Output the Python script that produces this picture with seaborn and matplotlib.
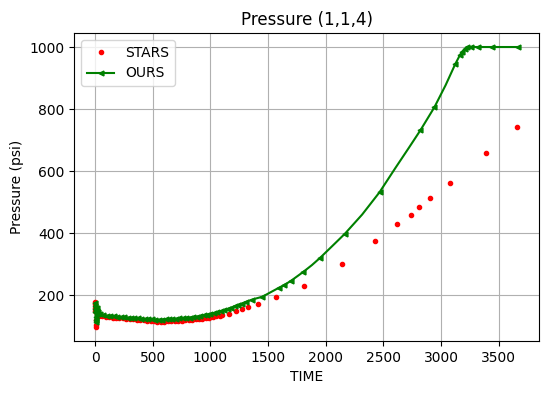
import matplotlib
matplotlib.use("Agg")
import matplotlib.pyplot as plt
import seaborn as sns
import pandas as pd

# -----------------------------
# Data
# -----------------------------
stars_time = [0, 0.5, 1, 2, 3, 5, 8, 12, 16, 20,
              30, 60, 90, 120, 150, 180, 210, 240, 270, 300,
              330, 360, 390, 420, 450, 480, 510, 540, 570, 600,
              630, 660, 690, 720, 750, 780, 810, 840, 870, 900,
              930, 960, 990, 1020, 1050, 1080, 1104, 1161, 1224, 1277,
              1329, 1415, 1571, 1814, 2138, 2429, 2620, 2742, 2811, 2906,
              3079, 3390, 3657]
stars_pressure = [178, 170, 160, 150, 97, 105, 120, 140, 145, 138,
                  134, 132, 130, 129, 128, 127, 126, 125, 124, 123,
                  122, 121, 120, 119, 118, 117, 116, 115, 115, 115,
                  116, 116, 117, 117, 118, 119, 120, 121, 122, 123,
                  124, 125, 128, 130, 132, 134, 135, 140, 148, 155,
                  161, 170, 193, 231, 302, 376, 428, 460, 483, 512,
                  563, 657, 742]

# OURS report steps (drawn with markers)
ours_time = [0, 0.5, 1, 2, 3, 5, 8, 12, 16, 20, 25,
             40, 70, 100, 130, 160, 190, 220, 250, 280, 310,
             340, 370, 400, 430, 460, 490, 520, 550, 580, 610,
             640, 670, 700, 730, 760, 790, 820, 850, 880, 910,
             940, 970, 1000, 1030, 1060, 1090, 1120, 1150, 1180, 1210,
             1240, 1270, 1305, 1363, 1450, 1594, 1638, 1701, 1805, 1950,
             2166, 2467, 2822, 2943, 3125, 3163, 3183, 3206, 3226, 3264,
             3322, 3443, 3668]
ours_pressure = [174, 165, 155, 145, 112, 120, 130, 150, 160, 145, 140,
                 138, 136, 134, 133, 132, 131, 130, 129, 128, 127,
                 126, 125, 124, 123, 122, 122, 121, 121, 121, 122,
                 122, 123, 124, 125, 126, 127, 128, 130, 131, 133,
                 135, 137, 140, 142, 145, 148, 152, 156, 160, 164,
                 168, 173, 178, 186, 195, 224, 232, 247, 275, 320,
                 398, 532, 732, 806, 946, 973, 985, 993, 1000, 1000,
                 1000, 1000, 1000]

# OURS intermediate steps (line only, no marker)
ours_curve_time = [1880, 2050, 2316, 2606, 2721, 3040]
ours_curve_pressure = [297, 356, 460, 611, 675, 877]

stars = pd.DataFrame({"TIME": stars_time, "Pressure": stars_pressure})
ours = pd.concat([
    pd.DataFrame({"TIME": ours_time, "Pressure": ours_pressure, "mark": True}),
    pd.DataFrame({"TIME": ours_curve_time, "Pressure": ours_curve_pressure,
                  "mark": False}),
]).sort_values("TIME", kind="stable").reset_index(drop=True)
mark_idx = list(ours.index[ours["mark"]])

# -----------------------------
# Plot
# -----------------------------
fig, ax = plt.subplots(figsize=(5.49, 3.93), dpi=100)
fig.subplots_adjust(left=0.135, right=0.982, top=0.916, bottom=0.132)

sns.lineplot(data=stars, x="TIME", y="Pressure", ax=ax, sort=False,
             estimator=None, color="red", marker=".", markersize=6,
             markeredgecolor="red", markeredgewidth=1.0,
             linestyle="none", label="STARS")
sns.lineplot(data=ours, x="TIME", y="Pressure", ax=ax, sort=False,
             estimator=None, color="green", marker="<", markersize=3.5,
             markeredgecolor="green", markeredgewidth=1.0,
             markevery=mark_idx, linewidth=1.5, label="OURS")

ax.set_title("Pressure (1,1,4)")
ax.set_xlabel("TIME")
ax.set_ylabel("Pressure (psi)")
ax.grid(True)
ax.legend(loc="upper left")

plt.savefig("out.png", dpi=100)
plt.close()
